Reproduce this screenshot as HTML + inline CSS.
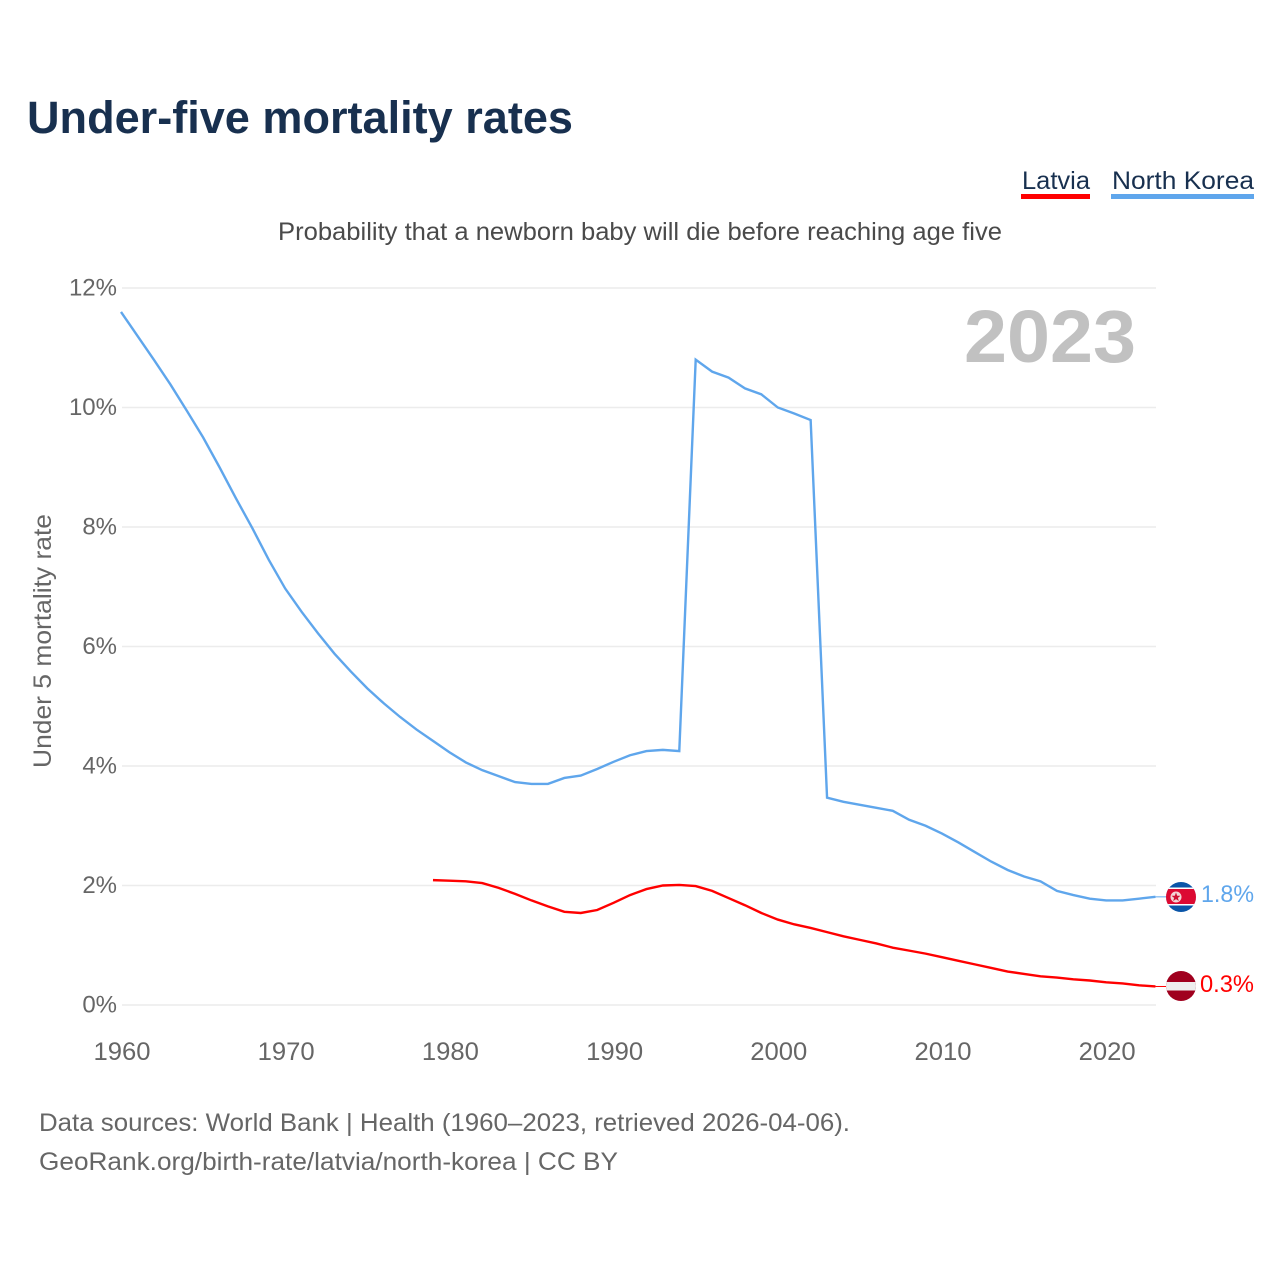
<!DOCTYPE html>
<html lang="en">
<head>
<meta charset="utf-8">
<title>Under-five mortality rates</title>
<style>
html,body{margin:0;padding:0;background:#fff;}
svg{display:block;font-family:"Liberation Sans",sans-serif;}
</style>
</head>
<body>
<svg id="chart" width="1280" height="1280" viewBox="0 0 1280 1280" xmlns="http://www.w3.org/2000/svg">
<rect width="1280" height="1280" fill="#fff"/>
<text x="27" y="133" font-size="45" font-weight="700" fill="#18304f" textLength="546" lengthAdjust="spacingAndGlyphs">Under-five mortality rates</text>
<g>
<text x="1022" y="189" font-size="25" fill="#18304f" textLength="68" lengthAdjust="spacingAndGlyphs">Latvia</text>
<rect x="1021" y="194" width="69" height="5" fill="#ff0000"/>
</g>
<g>
<text x="1112" y="189" font-size="25" fill="#18304f" textLength="142" lengthAdjust="spacingAndGlyphs">North Korea</text>
<rect x="1111" y="194" width="143" height="5" fill="#5fa6ec"/>
</g>
<text x="278" y="240" font-size="25" fill="#4a4a4a" textLength="724" lengthAdjust="spacingAndGlyphs">Probability that a newborn baby will die before reaching age five</text>
<g id="grid"></g>
<g id="yticks"></g>
<g id="xticks"></g>
<text transform="translate(51,768) rotate(-90)" font-size="25" fill="#666" textLength="254" lengthAdjust="spacingAndGlyphs">Under 5 mortality rate</text>
<text x="964" y="362" font-size="74" font-weight="700" fill="#c1c1c1" textLength="172" lengthAdjust="spacingAndGlyphs">2023</text>
<g id="series"></g>
<g>
<clipPath id="clip-nk"><circle cx="1181" cy="897" r="15"/></clipPath>
<g clip-path="url(#clip-nk)">
<rect x="1166" y="882" width="30" height="30" fill="#0a55a8"/>
<rect x="1166" y="887.5" width="30" height="18" fill="#fff"/>
<rect x="1166" y="889" width="30" height="15" fill="#dc0a32"/>
</g>
<circle cx="1176" cy="897" r="5.5" fill="#f3d5d5"/>
<polygon points="1176,892.5 1177.2,895.8 1180.5,895.8 1177.9,897.9 1178.8,901 1176,899.1 1173.2,901 1174.1,897.9 1171.5,895.8 1174.8,895.8" fill="#cf1030"/>
</g>
<g>
<clipPath id="clip-lv"><circle cx="1181" cy="986" r="15"/></clipPath>
<g clip-path="url(#clip-lv)">
<rect x="1166" y="971" width="30" height="30" fill="#a0001e"/>
<rect x="1166" y="982" width="30" height="8.5" fill="#eeeeee"/>
</g>
</g>
<text id="label-nk" x="1201" y="902" font-size="24" fill="#5fa6ec" textLength="53" lengthAdjust="spacingAndGlyphs">1.8%</text>
<text id="label-lv" x="1200" y="992" font-size="24" fill="#ff0000" textLength="54" lengthAdjust="spacingAndGlyphs">0.3%</text>
<text x="39" y="1131" font-size="25" fill="#666" textLength="811" lengthAdjust="spacingAndGlyphs">Data sources: World Bank | Health (1960–2023, retrieved 2026-04-06).</text>
<text x="39" y="1170" font-size="25" fill="#666" textLength="579" lengthAdjust="spacingAndGlyphs">GeoRank.org/birth-rate/latvia/north-korea | CC BY</text>
</svg>
<script>
const yTicks = [0, 2, 4, 6, 8, 10, 12];
const xTicks = [1960, 1970, 1980, 1990, 2000, 2010, 2020];
const northKoreaStart = 1960;
const northKoreaValues = [11.6, 11.2, 10.8, 10.39, 9.95, 9.5, 9.0, 8.48, 7.98, 7.45,
  6.97, 6.58, 6.22, 5.88, 5.58, 5.3, 5.05, 4.82, 4.61, 4.42,
  4.23, 4.06, 3.93, 3.83, 3.73, 3.7, 3.7, 3.8, 3.84, 3.95,
  4.07, 4.18, 4.25, 4.27, 4.25, 10.8, 10.6, 10.5, 10.32, 10.22,
  10.0, 9.9, 9.79, 3.47, 3.4, 3.35, 3.3, 3.25, 3.1, 3.0,
  2.87, 2.72, 2.56, 2.4, 2.26, 2.15, 2.07, 1.91, 1.84, 1.78,
  1.75, 1.75, 1.78, 1.81];
const latviaStart = 1979;
const latviaValues = [2.09, 2.08, 2.07, 2.04, 1.96, 1.86, 1.75, 1.65, 1.56, 1.54, 1.59,
  1.71, 1.84, 1.94, 2.0, 2.01, 1.99, 1.91, 1.79, 1.67, 1.54,
  1.43, 1.35, 1.29, 1.22, 1.15, 1.09, 1.03, 0.96, 0.91, 0.86,
  0.8, 0.74, 0.68, 0.62, 0.56, 0.52, 0.48, 0.46, 0.43, 0.41,
  0.38, 0.36, 0.33, 0.31];

const NS = 'http://www.w3.org/2000/svg';
function xScale(year) { return 121 + (year - 1960) * 16.42; }
function yScale(pct) { return 1005 - pct * 59.75; }
function tickX(year) { return 122 + (year - 1960) * 16.42; }

const grid = document.getElementById('grid');
const yGroup = document.getElementById('yticks');
const xGroup = document.getElementById('xticks');
const seriesGroup = document.getElementById('series');

yTicks.forEach(function (t) {
  const line = document.createElementNS(NS, 'line');
  
  
  line.setAttribute('x1', 122);
  line.setAttribute('x2', 1156);
  line.setAttribute('y1', yScale(t));
  line.setAttribute('y2', yScale(t));
  line.setAttribute('stroke', '#ececec');
  line.setAttribute('stroke-width', 1.5);
  grid.appendChild(line);
  const label = document.createElementNS(NS, 'text');
  
  
  label.setAttribute('x', 117);
  label.setAttribute('y', yScale(t) + 7.5);
  label.setAttribute('text-anchor', 'end');
  label.setAttribute('font-size', 24);
  label.setAttribute('fill', '#666');
  label.textContent = t + '%';
  yGroup.appendChild(label);
});

xTicks.forEach(function (t) {
  const label = document.createElementNS(NS, 'text');
  
  
  label.setAttribute('x', tickX(t) - 28.5);
  label.setAttribute('y', 1060);
  label.setAttribute('font-size', 25);
  label.setAttribute('fill', '#666');
  label.setAttribute('textLength', 57);
  label.setAttribute('lengthAdjust', 'spacingAndGlyphs');
  label.textContent = t;
  xGroup.appendChild(label);
});

function drawSeries(start, values, color, name, flagX) {
  const pts = values.map(function (v, i) {
    return xScale(start + i).toFixed(2) + ',' + yScale(v).toFixed(2);
  });
  const line = document.createElementNS(NS, 'polyline');
  
  
  line.setAttribute('points', pts.join(' '));
  line.setAttribute('fill', 'none');
  line.setAttribute('stroke', color);
  line.setAttribute('stroke-width', 2.4);
  line.setAttribute('stroke-linejoin', 'miter');
  seriesGroup.appendChild(line);
  const last = values[values.length - 1];
  const conn = document.createElementNS(NS, 'line');
  
  
  conn.setAttribute('x1', xScale(start + values.length - 1));
  conn.setAttribute('x2', flagX);
  conn.setAttribute('y1', yScale(last));
  conn.setAttribute('y2', yScale(last));
  conn.setAttribute('stroke', color);
  conn.setAttribute('stroke-width', 1);
  seriesGroup.appendChild(conn);
}
drawSeries(northKoreaStart, northKoreaValues, '#5fa6ec', 'line-north-korea', 1166);
drawSeries(latviaStart, latviaValues, '#ff0000', 'line-latvia', 1166);
</script>
</body>
</html>
